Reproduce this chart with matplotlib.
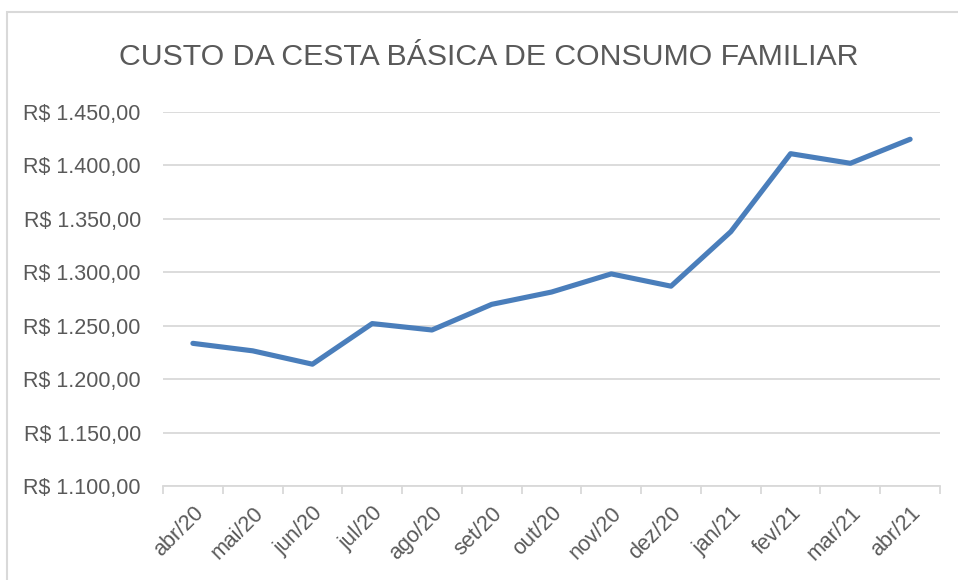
import matplotlib
matplotlib.use("Agg")
import matplotlib.pyplot as plt
from matplotlib.ticker import FuncFormatter, FixedLocator
from matplotlib.patches import Rectangle

months = ["abr/20", "mai/20", "jun/20", "jul/20", "ago/20", "set/20", "out/20",
          "nov/20", "dez/20", "jan/21", "fev/21", "mar/21", "abr/21"]
custo = [1233.5, 1226.5, 1214.0, 1252.0, 1246.0, 1270.0, 1281.5,
         1298.5, 1287.0, 1338.0, 1411.0, 1402.0, 1424.5]
yticks = [1100, 1150, 1200, 1250, 1300, 1350, 1400, 1450]
title = "CUSTO DA CESTA BÁSICA DE CONSUMO FAMILIAR"

plt.rcParams['font.family'] = ['Liberation Sans', 'DejaVu Sans']

fig = plt.figure(figsize=(9.58, 5.8), dpi=100)
fig.patch.set_facecolor("white")
# chart border
fig.add_artist(Rectangle((7/958, -0.01), 1.0, 1 - 12/580 + 0.01, transform=fig.transFigure,
                         fill=False, edgecolor="#d9d9d9", linewidth=1.5))

ax = fig.add_axes([163/958, 1 - 486/580, (940 - 163)/958, (486 - 112)/580])
x = list(range(len(months)))
ax.plot(x, custo, color="#4a7ebb", linewidth=3.7, solid_capstyle="round", solid_joinstyle="round", zorder=3)

ax.set_xlim(-0.5, len(months) - 0.5)
ax.set_ylim(yticks[0], yticks[-1])
ax.set_yticks(yticks)
ax.yaxis.set_major_formatter(FuncFormatter(
    lambda v, p: "R$ " + f"{v:,.2f}".replace(",", "X").replace(".", ",").replace("X", ".")))
ax.grid(axis="y", color="#d9d9d9", linewidth=1.3)
ax.set_axisbelow(True)
for s in ["top", "right", "left"]:
    ax.spines[s].set_visible(False)
ax.spines["bottom"].set_color("#d9d9d9")
ax.spines["bottom"].set_linewidth(1.3)

ax.xaxis.set_major_locator(FixedLocator([i - 0.5 for i in range(len(months) + 1)]))
ax.xaxis.set_major_formatter(FuncFormatter(lambda v, p: ""))
ax.xaxis.set_minor_locator(FixedLocator(x))
ax.set_xticklabels(months, minor=True)
ax.tick_params(axis="x", which="major", length=6, width=1.3, color="#d9d9d9", direction="out")
ax.tick_params(axis="x", which="minor", length=0, pad=12, labelsize=15.5, labelcolor="#595959")
for lbl in ax.get_xticklabels(minor=True):
    lbl.set_rotation(45)
    lbl.set_ha("right")
    lbl.set_va("top")
    lbl.set_rotation_mode("anchor")
ax.tick_params(axis="y", length=0, pad=16, labelsize=15.5, labelcolor="#595959")

fig.text(489/958, 1 - 57/580, title, ha="center", va="center", fontsize=21.8, color="#595959")

fig.savefig("out.png", dpi=100)
